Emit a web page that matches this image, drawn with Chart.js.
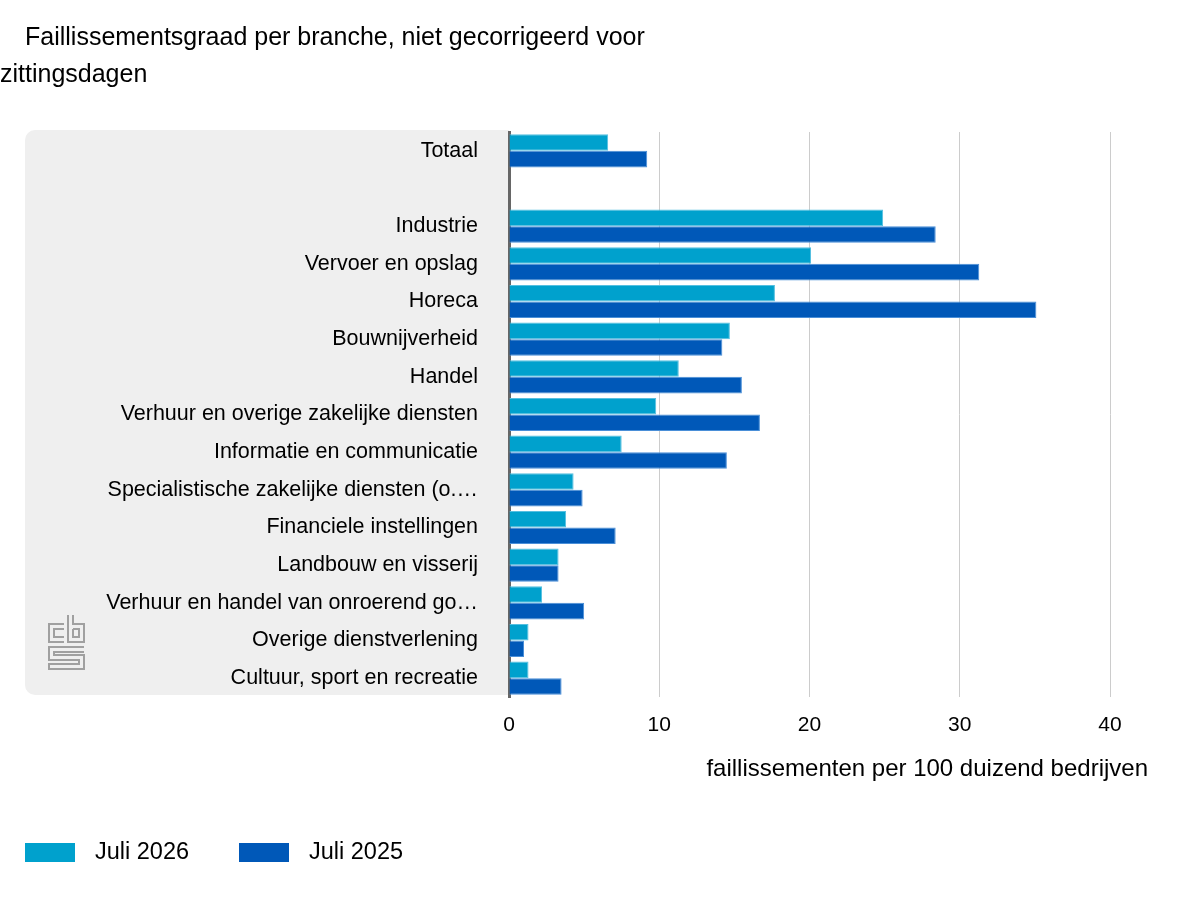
<!DOCTYPE html>
<html>
<head>
<meta charset="utf-8">
<script src="https://cdn.jsdelivr.net/npm/chart.js@4"></script>
<style>
  html, body { margin: 0; padding: 0; background: #fff; }
  #wrap { position: relative; width: 1200px; height: 900px; }
</style>
</head>
<body>
<div id="wrap"><canvas id="chart" width="1200" height="900"></canvas></div>
<script>
// categorieën (lege regel tussen Totaal en de branches)
const branches = [
  'Totaal', '',
  'Industrie', 'Vervoer en opslag', 'Horeca', 'Bouwnijverheid', 'Handel',
  'Verhuur en overige zakelijke diensten', 'Informatie en communicatie',
  'Specialistische zakelijke diensten (o.…', 'Financiele instellingen',
  'Landbouw en visserij', 'Verhuur en handel van onroerend go…',
  'Overige dienstverlening', 'Cultuur, sport en recreatie'
];

// faillissementen per 100 duizend bedrijven
const juli2026 = [6.6, null, 24.9, 20.1, 17.7, 14.7, 11.3, 9.8, 7.5, 4.3, 3.8, 3.3, 2.2, 1.3, 1.3];
const juli2025 = [9.2, null, 28.4, 31.3, 35.1, 14.2, 15.5, 16.7, 14.5, 4.9, 7.1, 3.3, 5.0, 1.0, 3.5];

const xTicks = [0, 10, 20, 30, 40];

const FONT = "'Liberation Sans', Arial, sans-serif";
const LIGHT = '#00a1cd';
const DARK = '#0058b8';

// grijs paneel achter de labels + cbs-logo
const panelPlugin = {
  id: 'panel',
  beforeDraw(chart) {
    const ctx = chart.ctx;
    const area = chart.chartArea;
    ctx.save();
    ctx.fillStyle = '#efefef';
    ctx.beginPath();
    ctx.roundRect(25, area.top - 2, area.left - 25, area.bottom - area.top, [10, 0, 0, 10]);
    ctx.fill();

    // logo (grof nagetekend)
    ctx.strokeStyle = '#a0a0a0';
    ctx.lineWidth = 2;
    ctx.beginPath();
    // c
    ctx.moveTo(64, 624); ctx.lineTo(49, 624); ctx.lineTo(49, 642); ctx.lineTo(64, 642);
    ctx.moveTo(64, 629); ctx.lineTo(54, 629); ctx.lineTo(54, 637); ctx.lineTo(64, 637);
    // b
    ctx.moveTo(68, 615); ctx.lineTo(68, 642); ctx.lineTo(84, 642); ctx.lineTo(84, 624); ctx.lineTo(73, 624); ctx.lineTo(73, 615);
    ctx.moveTo(73, 629); ctx.lineTo(79, 629); ctx.lineTo(79, 637); ctx.lineTo(73, 637); ctx.lineTo(73, 629);
    // s
    ctx.moveTo(84, 647); ctx.lineTo(49, 647); ctx.lineTo(49, 660); ctx.lineTo(79, 660); ctx.lineTo(79, 664); ctx.lineTo(49, 664); ctx.lineTo(49, 669); ctx.lineTo(84, 669); ctx.lineTo(84, 655); ctx.lineTo(54, 655); ctx.lineTo(54, 652); ctx.lineTo(84, 652);
    ctx.stroke();
    ctx.restore();
  },
  afterDraw(chart) {
    const ctx = chart.ctx;
    ctx.save();
    ctx.fillStyle = '#000';
    ctx.textBaseline = 'middle';
    // titel
    ctx.font = '25px ' + FONT;
    ctx.textAlign = 'left';
    ctx.fillText('Faillissementsgraad per branche, niet gecorrigeerd voor', 25, 38);
    ctx.fillText('zittingsdagen', 0, 75);
    // as-titel
    ctx.font = '24px ' + FONT;
    ctx.textAlign = 'right';
    ctx.fillText('faillissementen per 100 duizend bedrijven', 1148, 769);
    // legenda
    const items = [['Juli 2026', LIGHT, 25], ['Juli 2025', DARK, 239]];
    ctx.textAlign = 'left';
    ctx.font = '23.5px ' + FONT;
    items.forEach(([txt, col, x]) => {
      ctx.fillStyle = col;
      ctx.fillRect(x, 843, 50, 19);
      ctx.fillStyle = '#000';
      ctx.fillText(txt, x + 70, 853);
    });
    ctx.restore();
  }
};

const data = {
  labels: branches,
  datasets: [
    {
      label: 'Juli 2026',
      data: juli2026,
      backgroundColor: LIGHT,
      borderColor: '#55bfe0',
      borderWidth: 1,
      categoryPercentage: 0.88,
      barPercentage: 1.0
    },
    {
      label: 'Juli 2025',
      data: juli2025,
      backgroundColor: DARK,
      borderColor: '#4a8fd8',
      borderWidth: 1,
      categoryPercentage: 0.88,
      barPercentage: 1.0
    }
  ]
};

new Chart(document.getElementById('chart').getContext('2d'), {
  type: 'bar',
  data: data,
  plugins: [panelPlugin],
  options: {
    indexAxis: 'y',
    responsive: false,
    animation: false,
    layout: { padding: { top: 132, right: 90, bottom: 143, left: 0 } },
    plugins: {
      legend: { display: false },
      title: { display: false },
      tooltip: { enabled: false }
    },
    scales: {
      x: {
        min: 0,
        max: 40,
        afterBuildTicks(axis) { axis.ticks = xTicks.map(v => ({ value: v })); },
        afterFit(axis) { axis.height = 60; },
        border: { display: false },
        grid: {
          drawTicks: false,
          color: ctx => ctx.tick && ctx.tick.value === 0 ? 'rgba(0,0,0,0)' : '#cccccc',
          lineWidth: 1
        },
        ticks: {
          padding: 16,
          color: '#000',
          font: { family: FONT, size: 21 }
        }
      },
      y: {
        afterFit(axis) { axis.width = 509; },
        border: { display: true, color: '#666666', width: 3 },
        grid: { display: false, drawTicks: false },
        ticks: {
          padding: 31,
          autoSkip: false,
          color: '#000',
          font: { family: FONT, size: 21.5 }
        }
      }
    }
  }
});
</script>
</body>
</html>
